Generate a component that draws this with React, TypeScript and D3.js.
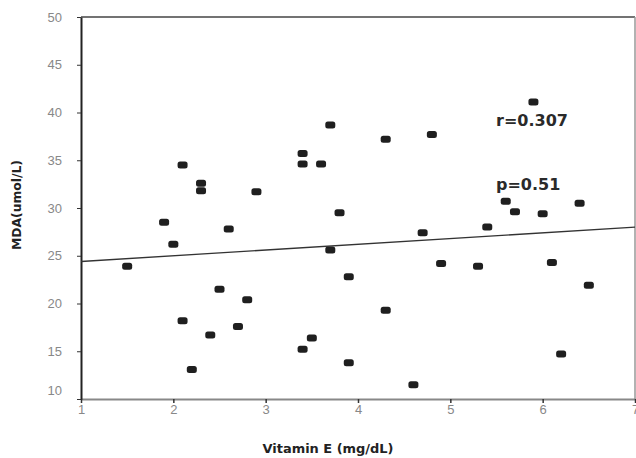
import React, { useEffect, useRef } from "react";
import * as d3 from "d3";

// vitamin E (mg/dL) vs MDA (umol/L)
const vitaminE = [1.5, 1.9, 2.0, 2.1, 2.1, 2.2, 2.3, 2.3, 2.4, 2.5, 2.6, 2.8, 2.7, 2.9,
  3.4, 3.4, 3.4, 3.5, 3.6, 3.7, 3.7, 3.8, 3.9, 3.9, 4.3, 4.3, 4.6, 4.7, 4.8, 4.9,
  5.3, 5.4, 5.6, 5.7, 5.9, 6.0, 6.1, 6.2, 6.4, 6.5];
const mda = [23.9, 28.5, 26.2, 34.5, 18.2, 13.1, 32.6, 31.8, 16.7, 21.5, 27.8, 20.4, 17.6, 31.7,
  35.7, 34.6, 15.2, 16.4, 34.6, 38.7, 25.6, 29.5, 22.8, 13.8, 37.2, 19.3, 11.5, 27.4, 37.7, 24.2,
  23.9, 28.0, 30.7, 29.6, 41.1, 29.4, 24.3, 14.7, 30.5, 21.9];
const fitLine = [[1, 24.4], [7, 28.0]];
const xTicks = [1, 2, 3, 4, 5, 6, 7];
const yTicks = [10, 15, 20, 25, 30, 35, 40, 45, 50];
const stats = ["r=0.307", "p=0.51"];

const W = 636, H = 458;
const margin = { top: 17, right: 1, bottom: 59, left: 81 };

const Chart = () => {
  const ref = useRef(null);

  useEffect(() => {
    const svg = d3.select(ref.current);
    svg.selectAll("*").remove();

    const x = d3.scaleLinear().domain([1, 7]).range([margin.left, W - margin.right]);
    const y = d3.scaleLinear().domain([10, 50]).range([H - margin.bottom, margin.top]);

    // frame
    svg.append("line").attr("x1", x(1)).attr("x2", x(7)).attr("y1", y(50)).attr("y2", y(50))
      .attr("stroke", "#444").attr("stroke-width", 1.5);
    svg.append("line").attr("x1", x(7)).attr("x2", x(7)).attr("y1", y(50)).attr("y2", y(10))
      .attr("stroke", "#999").attr("stroke-width", 1.5);

    // x axis
    const xAxis = svg.append("g").attr("transform", "translate(0," + y(10) + ")")
      .call(d3.axisBottom(x).tickValues(xTicks).tickFormat(d3.format("d")).tickSize(4).tickSizeOuter(0));
    xAxis.select(".domain").attr("stroke", "#888").attr("stroke-width", 2);
    xAxis.selectAll(".tick line").attr("stroke", "#333").attr("stroke-width", 1.5);
    xAxis.selectAll(".tick text").attr("fill", "#888").attr("font-size", 13)
      .attr("font-family", "Liberation Sans, Arial, sans-serif").attr("dy", "0.85em").attr("y", 4);

    // y axis
    const yAxis = svg.append("g").attr("transform", "translate(" + x(1) + ",0)")
      .call(d3.axisLeft(y).tickValues(yTicks).tickFormat(d3.format("d")).tickSize(4).tickSizeOuter(0));
    yAxis.select(".domain").attr("stroke", "#222").attr("stroke-width", 2);
    yAxis.selectAll(".tick line").attr("stroke", "#333").attr("stroke-width", 1);
    yAxis.selectAll(".tick text").attr("fill", "#888").attr("font-size", 13)
      .attr("font-family", "Liberation Sans, Arial, sans-serif").attr("x", -19)
      .attr("dy", d => d === 10 ? "-0.35em" : "0.32em");

    // regression line
    svg.append("path")
      .attr("d", d3.line().x(d => x(d[0])).y(d => y(d[1]))(fitLine))
      .attr("stroke", "#333").attr("stroke-width", 1.3).attr("fill", "none");

    // points
    svg.append("g").selectAll("rect")
      .data(vitaminE.map((v, i) => [v, mda[i]]))
      .enter().append("rect")
      .attr("x", d => x(d[0]) - 5)
      .attr("y", d => y(d[1]) - 3.5)
      .attr("width", 10)
      .attr("height", 7)
      .attr("rx", 2.5)
      .attr("fill", "#1f1f1f");

    // stats
    svg.selectAll(".stat").data(stats).enter().append("text")
      .attr("class", "stat")
      .attr("x", 496)
      .attr("y", (d, i) => i === 0 ? 126 : 190)
      .attr("font-family", "DejaVu Sans, sans-serif")
      .attr("font-weight", "bold")
      .attr("font-size", 16)
      .attr("fill", "#2a2a2a")
      .text(d => d);

    // axis titles
    svg.append("text")
      .attr("x", 328).attr("y", 453)
      .attr("text-anchor", "middle")
      .attr("font-family", "DejaVu Sans, sans-serif")
      .attr("font-weight", "bold")
      .attr("font-size", 13)
      .attr("textLength", 131)
      .attr("lengthAdjust", "spacingAndGlyphs")
      .attr("fill", "#222")
      .text("Vitamin E (mg/dL)");

    svg.append("text")
      .attr("transform", "translate(21,205) rotate(-90)")
      .attr("text-anchor", "middle")
      .attr("font-family", "DejaVu Sans, sans-serif")
      .attr("font-weight", "bold")
      .attr("font-size", 13)
      .attr("textLength", 90)
      .attr("lengthAdjust", "spacingAndGlyphs")
      .attr("fill", "#222")
      .text("MDA(umol/L)");
  });

  return (
    <svg ref={ref} width={W} height={H}
      style={{ position: "absolute", left: 0, top: 0, background: "#fff" }} />
  );
};

export default function App() {
  return <Chart />;
}
